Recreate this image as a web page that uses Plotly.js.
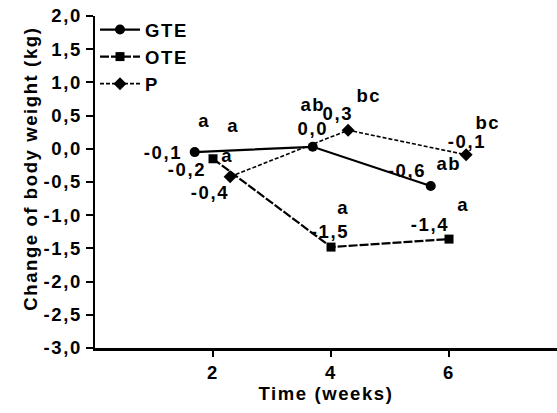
<!DOCTYPE html>
<html>
<head>
<meta charset="utf-8">
<script src="https://cdn.plot.ly/plotly-3.0.1.min.js"></script>
<style>
  html, body { margin: 0; padding: 0; background: #fff; }
  #chart { width: 557px; height: 413px; }
  .main-svg text { letter-spacing: 1.6px; }
</style>
</head>
<body>
<div id="chart"></div>
<script>
// ---- data ----
var weeks = [2, 4, 6];
var seriesNames = ['GTE', 'OTE', 'P'];
var gteValues = [-0.05, 0.03, -0.56];
var oteValues = [-0.15, -1.48, -1.36];
var pValues = [-0.42, 0.28, -0.09];
var gteLabels = ['-0,1', '0,0', '-0,6'];
var oteLabels = ['-0,2', '-1,5', '-1,4'];
var pLabels = ['-0,4', '0,3', '-0,1'];
var gteLetters = ['a', 'ab', 'ab'];
var oteLetters = ['a', 'a', 'a'];
var pLetters = ['a', 'bc', 'bc'];
var yTickLabels = ['2,0','1,5','1,0','0,5','0,0','-0,5','-1,0','-1,5','-2,0','-2,5','-3,0'];
var yTickVals = [2, 1.5, 1, 0.5, 0, -0.5, -1, -1.5, -2, -2.5, -3];

// ---- style / positions ----
var FONT = 'Liberation Sans, Arial, sans-serif';
var FS = 18.5;
var dodge = [-0.31, 0, 0.29];
var valOffsets = [
  [[-32, 0], [0, -18], [-24, -15]],
  [[-26, 11], [-1, -16], [-19, -15]],
  [[-20, 16], [-10, -17], [1, -13]]
];
var letterOffsets = [
  [[10, -32], [0, -42], [18, -22]],
  [[20, -33], [12, -40], [14, -35]],
  [[-3, -21], [21, -35], [22, -32]]
];
var allValues = [gteValues, oteValues, pValues];
var allLabels = [gteLabels, oteLabels, pLabels];
var allLetters = [gteLetters, oteLetters, pLetters];
var lineStyles = [
  {color: '#000', width: 2.2, dash: 'solid'},
  {color: '#000', width: 2.2, dash: '9px,2px'},
  {color: '#000', width: 1.6, dash: '4px,2px'}
];
var markerStyles = [
  {symbol: 'circle', size: 10, color: '#000'},
  {symbol: 'square', size: 9, color: '#000'},
  {symbol: 'diamond', size: 10, color: '#000'}
];

var traces = [];
var annotations = [];
var fnt = {family: FONT, size: FS, color: '#000', weight: 'bold'};
for (var s = 0; s < 3; s++) {
  var xs = weeks.map(function (w) { return w + dodge[s]; });
  traces.push({
    type: 'scatter', mode: 'lines+markers', name: seriesNames[s],
    x: xs, y: allValues[s],
    line: lineStyles[s], marker: markerStyles[s]
  });
  for (var i = 0; i < weeks.length; i++) {
    annotations.push({
      x: xs[i], y: allValues[s][i], xref: 'x', yref: 'y',
      text: allLabels[s][i], showarrow: false,
      xshift: valOffsets[s][i][0], yshift: -valOffsets[s][i][1],
      xanchor: 'center', yanchor: 'middle', borderpad: 0,
      font: fnt
    });
    annotations.push({
      x: xs[i], y: allValues[s][i], xref: 'x', yref: 'y',
      text: allLetters[s][i], showarrow: false,
      xshift: letterOffsets[s][i][0], yshift: -letterOffsets[s][i][1],
      xanchor: 'center', yanchor: 'middle', borderpad: 0,
      font: fnt
    });
  }
}
annotations.push({
  text: 'Change of body weight (kg)', xref: 'paper', yref: 'paper',
  x: -0.141, y: 0.542, textangle: -90, showarrow: false,
  xanchor: 'center', yanchor: 'middle', font: fnt
});
annotations.push({
  text: 'Time (weeks)', xref: 'paper', yref: 'paper',
  x: 0.5, y: -0.137, showarrow: false,
  xanchor: 'center', yanchor: 'middle', font: fnt
});

var layout = {
  width: 557, height: 413,
  margin: {l: 95, r: 0, t: 16, b: 65, pad: 0},
  paper_bgcolor: '#fff', plot_bgcolor: '#fff',
  font: fnt,
  showlegend: true,
  legend: {x: 0.0, y: 1.015, xanchor: 'left', yanchor: 'top',
    bgcolor: 'rgba(0,0,0,0)', font: fnt, itemwidth: 40,
    tracegroupgap: 0},
  xaxis: {
    range: [0, 7.83], tickvals: weeks, ticktext: weeks.map(String),
    showline: true, linewidth: 2.5, linecolor: '#000',
    ticks: 'outside', ticklen: 6, tickwidth: 2, tickcolor: '#000',
    showgrid: false, zeroline: false, fixedrange: true
  },
  yaxis: {
    range: [-3, 2], tickvals: yTickVals, ticktext: yTickLabels,
    showline: true, linewidth: 2.5, linecolor: '#000',
    ticks: 'outside', ticklen: 7, tickwidth: 2, tickcolor: '#000',
    showgrid: false, zeroline: false, fixedrange: true
  },
  annotations: annotations
};

Plotly.newPlot('chart', traces, layout, {displayModeBar: false, staticPlot: true});
</script>
</body>
</html>
